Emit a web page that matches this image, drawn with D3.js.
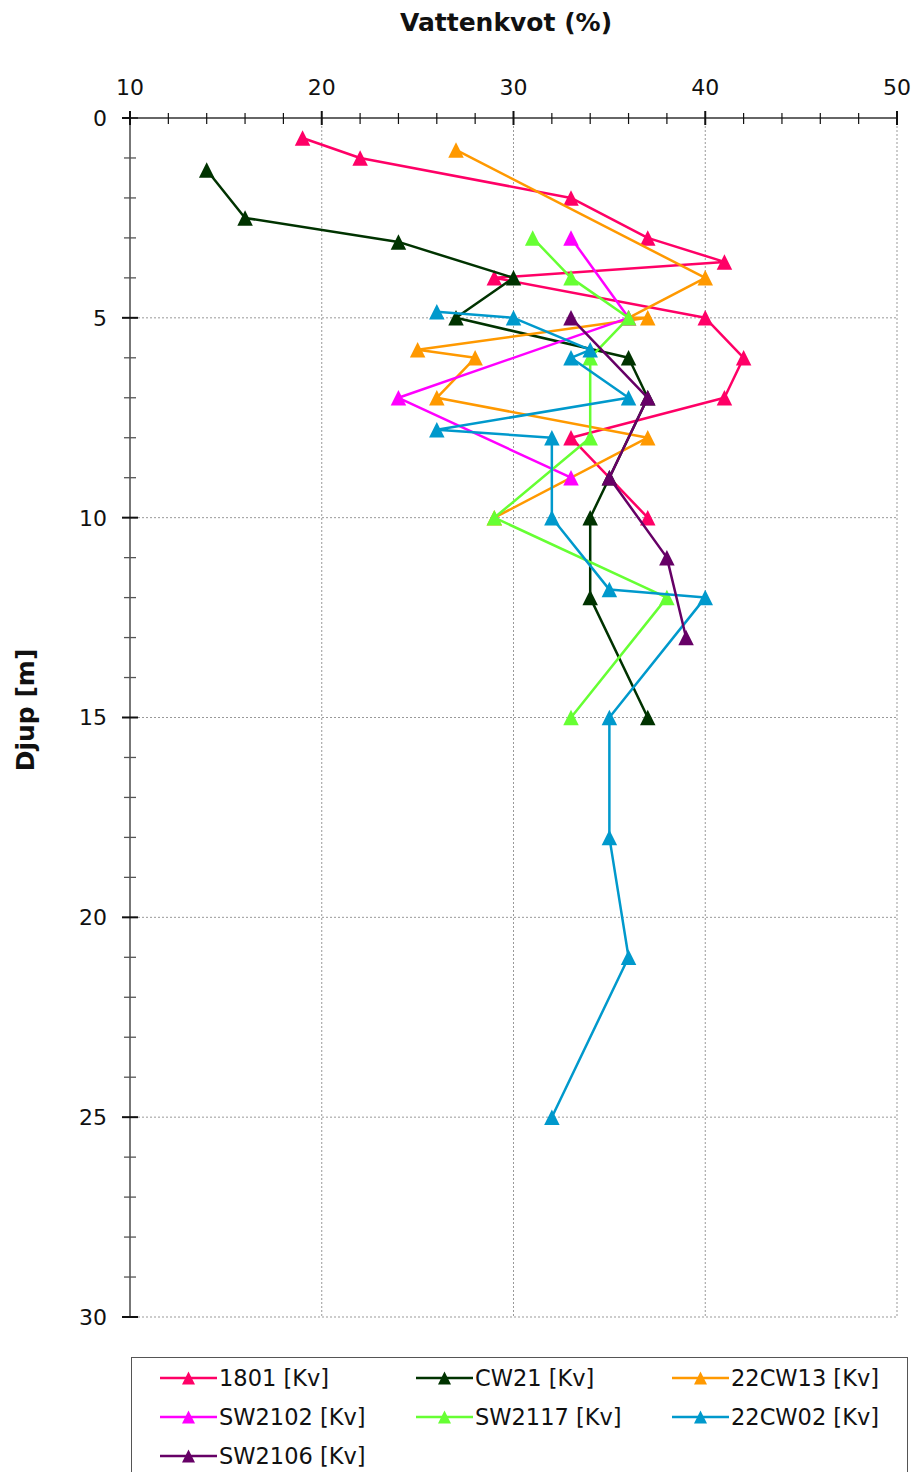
<!DOCTYPE html>
<html>
<head>
<meta charset="utf-8">
<script src="https://cdn.jsdelivr.net/npm/d3@7"></script>
<style>
  html, body { margin: 0; padding: 0; background: #fff; }
  svg { display: block; font-family: "DejaVu Sans", Verdana, sans-serif; }
</style>
</head>
<body>
<svg id="chart" width="914" height="1472"></svg>
<script>
// Water content (%) against depth (m) per borehole
const seriesNames = ["1801 [Kv]", "CW21 [Kv]", "22CW13 [Kv]", "SW2102 [Kv]", "SW2117 [Kv]", "22CW02 [Kv]", "SW2106 [Kv]"];
const seriesColors = ["#ff0066", "#003300", "#ff9900", "#ff00ff", "#66ff33", "#0099cc", "#660066"];

const w1801 = [19, 22, 33, 37, 41, 29, 40, 42, 41, 33, 37];
const d1801 = [0.5, 1.0, 2.0, 3.0, 3.6, 4.0, 5.0, 6.0, 7.0, 8.0, 10.0];

const wCW21 = [14, 16, 24, 30, 27, 36, 37, 35, 34, 34, 37];
const dCW21 = [1.3, 2.5, 3.1, 4.0, 5.0, 6.0, 7.0, 9.0, 10.0, 12.0, 15.0];

const w22CW13 = [27, 40, 36, 37, 25, 28, 26, 37, 29];
const d22CW13 = [0.8, 4.0, 5.0, 5.0, 5.8, 6.0, 7.0, 8.0, 10.0];

const wSW2102 = [33, 36, 24, 33];
const dSW2102 = [3.0, 5.0, 7.0, 9.0];

const wSW2117 = [31, 33, 36, 34, 34, 29, 38, 33];
const dSW2117 = [3.0, 4.0, 5.0, 6.0, 8.0, 10.0, 12.0, 15.0];

const w22CW02 = [26, 30, 34, 33, 36, 26, 32, 32, 35, 40, 35, 35, 36, 32];
const d22CW02 = [4.85, 5.0, 5.8, 6.0, 7.0, 7.8, 8.0, 10.0, 11.8, 12.0, 15.0, 18.0, 21.0, 25.0];

const wSW2106 = [33, 37, 35, 38, 39];
const dSW2106 = [5.0, 7.0, 9.0, 11.0, 13.0];

const xTicks = [10, 20, 30, 40, 50];
const yTicks = [0, 5, 10, 15, 20, 25, 30];

const seriesW = [w1801, wCW21, w22CW13, wSW2102, wSW2117, w22CW02, wSW2106];
const seriesD = [d1801, dCW21, d22CW13, dSW2102, dSW2117, d22CW02, dSW2106];

const svg = d3.select("#chart");
const x = d3.scaleLinear().domain([10, 50]).range([130, 897]);
const y = d3.scaleLinear().domain([0, 30]).range([118, 1317]);

// dotted grid
const grid = svg.append("g").attr("stroke", "#999").attr("stroke-width", 1).attr("stroke-dasharray", "2,2");
xTicks.slice(1).forEach(v => grid.append("line").attr("x1", x(v)).attr("x2", x(v)).attr("y1", y(0)).attr("y2", y(30)));
yTicks.slice(1).forEach(v => grid.append("line").attr("x1", x(10)).attr("x2", x(50)).attr("y1", y(v)).attr("y2", y(v)));

// left depth axis
const yAxis = svg.append("g");
yAxis.append("line").attr("x1", x(10)).attr("x2", x(10)).attr("y1", y(0)).attr("y2", y(30))
  .attr("stroke", "#777").attr("stroke-width", 2);
d3.range(0, 31).forEach(v => {
  const major = v % 5 === 0;
  yAxis.append("line")
    .attr("x1", major ? 122 : 124).attr("x2", major ? 138 : 136)
    .attr("y1", y(v)).attr("y2", y(v))
    .attr("stroke", major ? "#111" : "#555").attr("stroke-width", major ? 2 : 1.3);
});
yAxis.selectAll("text.ytick").data(yTicks).join("text")
  .attr("class", "ytick")
  .attr("x", 107).attr("y", d => y(d)).attr("dy", "0.36em")
  .attr("text-anchor", "end").attr("font-size", 22).attr("fill", "#111")
  .text(d => d);

// top water-content axis
const xAxis = svg.append("g");
xAxis.append("line").attr("x1", x(10)).attr("x2", x(50)).attr("y1", y(0)).attr("y2", y(0))
  .attr("stroke", "#333").attr("stroke-width", 1.5);
d3.range(10, 51, 2).forEach(v => {
  const major = v % 10 === 0;
  xAxis.append("line")
    .attr("x1", x(v)).attr("x2", x(v))
    .attr("y1", major ? 111 : 113).attr("y2", major ? 125 : 124)
    .attr("stroke", "#111").attr("stroke-width", major ? 2 : 1.2);
});
xAxis.selectAll("text.xtick").data(xTicks).join("text")
  .attr("class", "xtick")
  .attr("x", d => x(d)).attr("y", 95)
  .attr("text-anchor", "middle").attr("font-size", 22).attr("fill", "#111")
  .text(d => d);

// axis titles
svg.append("text").attr("x", 506).attr("y", 31)
  .attr("text-anchor", "middle").attr("font-size", 25).attr("font-weight", "bold").attr("fill", "#111")
  .text("Vattenkvot (%)");
svg.append("text").attr("transform", "translate(34,710) rotate(-90)")
  .attr("text-anchor", "middle").attr("font-size", 25).attr("font-weight", "bold").attr("fill", "#111")
  .text("Djup [m]");

// triangle marker
function tri(cx, cy, s) {
  const h = s;
  return `M${cx},${cy - h / 2}L${cx + s / 2},${cy + h / 2}L${cx - s / 2},${cy + h / 2}Z`;
}

const line = d3.line().x(p => x(p[0])).y(p => y(p[1]));
const plot = svg.append("g");
seriesNames.forEach((name, i) => {
  const pts = seriesW[i].map((w, j) => [w, seriesD[i][j]]);
  const g = plot.append("g");
  g.append("path").attr("d", line(pts)).attr("fill", "none")
    .attr("stroke", seriesColors[i]).attr("stroke-width", 2.5).attr("stroke-linejoin", "round");
  g.selectAll("path.m").data(pts).join("path").attr("class", "m")
    .attr("d", p => tri(x(p[0]), y(p[1]), 15.5)).attr("fill", seriesColors[i]);
});

// legend
const lg = svg.append("g");
lg.append("rect").attr("x", 131.5).attr("y", 1357.5).attr("width", 776).attr("height", 140)
  .attr("fill", "#fff").attr("stroke", "#555").attr("stroke-width", 1);
const colX = [160, 416, 672];
const rowY = [1378, 1417, 1456];
seriesNames.forEach((name, i) => {
  const cx = colX[i % 3], cy = rowY[Math.floor(i / 3)];
  lg.append("line").attr("x1", cx).attr("x2", cx + 57).attr("y1", cy).attr("y2", cy)
    .attr("stroke", seriesColors[i]).attr("stroke-width", 2.5);
  lg.append("path").attr("d", tri(cx + 28.5, cy, 13)).attr("fill", seriesColors[i]);
  lg.append("text").attr("x", cx + 59).attr("y", cy).attr("dy", "0.36em")
    .attr("font-size", 22.5).attr("fill", "#111").text(name);
});
</script>
</body>
</html>
